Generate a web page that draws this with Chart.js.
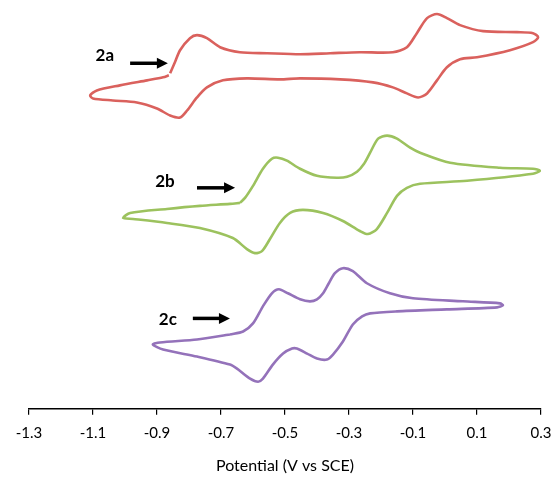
<!DOCTYPE html>
<html>
<head>
<meta charset="utf-8">
<script src="https://cdn.jsdelivr.net/npm/chart.js@4"></script>
<style>
  html, body { margin: 0; padding: 0; background: #fff; }
  #wrap { width: 556px; height: 477px; }
</style>
</head>
<body>
<div id="wrap"><canvas id="cvChart"></canvas></div>
<script>
// Cyclic voltammograms of 2a, 2b, 2c (currents offset, arbitrary units)

var xTicks = [-1.3, -1.1, -0.9, -0.7, -0.5, -0.3, -0.1, 0.1, 0.3];

// 2a: scan starts at -0.86 V going positive
var v2a = [-0.859, -0.844, -0.828, -0.797, -0.775, -0.744, -0.703, -0.641, -0.556, -0.453, -0.359, -0.266, -0.163, -0.119, -0.088, -0.056, -0.025, 0.006, 0.047, 0.119, 0.225, 0.275, 0.291,
           0.275, 0.203, 0.100, 0.047, 0.006, -0.025, -0.056, -0.084, -0.119, -0.163, -0.225, -0.328, -0.453, -0.516, -0.619, -0.694, -0.744, -0.775, -0.806, -0.828, -0.859, -0.900, -0.963, -1.038, -1.100, -1.109,
           -1.088, -1.016, -0.931, -0.881, -0.863];
var i2a = [33.4, 34.5, 35.7, 36.9, 37.2, 36.9, 36.0, 35.5, 35.4, 35.3, 35.4, 35.5, 35.5, 36.0, 37.4, 38.9, 39.3, 38.9, 38.2, 37.6, 37.5, 37.4, 37.0,
           36.5, 35.7, 35.0, 34.8, 34.0, 32.7, 31.4, 31.0, 31.4, 32.0, 32.5, 32.8, 32.9, 32.8, 32.9, 32.7, 32.0, 31.0, 29.7, 29.0, 29.2, 29.9, 30.5, 30.7, 30.9, 31.2,
           31.7, 32.2, 32.7, 33.0, 33.2];

// 2b
var v2b = [-0.641, -0.625, -0.600, -0.569, -0.541, -0.522, -0.494, -0.453, -0.400, -0.338, -0.306, -0.275, -0.253, -0.234, -0.209, -0.181, -0.150, -0.109, -0.078, 0.016, 0.172, 0.275, 0.297,
           0.275, 0.069, -0.078, -0.119, -0.150, -0.181, -0.213, -0.241, -0.266, -0.319, -0.381, -0.444, -0.484, -0.516, -0.547, -0.572, -0.594, -0.619, -0.663, -0.766, -0.869, -0.975, -1.006,
           -0.984, -0.869, -0.766, -0.672, -0.641];
var i2b = [20.5, 21.0, 22.2, 23.9, 24.9, 25.0, 24.7, 23.9, 23.2, 23.0, 23.1, 23.6, 24.4, 25.5, 26.9, 27.2, 26.9, 26.0, 25.5, 24.5, 24.0, 23.9, 23.7,
           23.4, 22.7, 22.4, 22.0, 21.2, 19.5, 17.9, 17.4, 17.7, 18.7, 19.5, 19.8, 19.5, 18.5, 16.9, 15.7, 15.5, 15.9, 17.0, 18.0, 18.5, 18.9, 19.0,
           19.5, 19.9, 20.2, 20.4, 20.5];

// 2c
var v2c = [-0.672, -0.631, -0.600, -0.569, -0.541, -0.519, -0.491, -0.453, -0.422, -0.400, -0.381, -0.363, -0.344, -0.319, -0.288, -0.244, -0.172, -0.100, 0.056, 0.172, 0.181,
           0.163, 0.006, -0.150, -0.234, -0.259, -0.288, -0.319, -0.350, -0.369, -0.400, -0.431, -0.463, -0.478, -0.506, -0.538, -0.569, -0.584, -0.609, -0.650, -0.672, -0.775, -0.881, -0.913,
           -0.891, -0.775, -0.672];
var i2c = [7.4, 7.7, 8.5, 10.2, 11.5, 11.9, 11.5, 10.9, 10.7, 10.9, 11.5, 12.5, 13.5, 14.0, 13.7, 12.5, 11.5, 11.0, 10.7, 10.5, 10.3,
           10.1, 9.9, 9.7, 9.5, 9.2, 8.4, 6.7, 5.4, 4.9, 5.0, 5.5, 6.0, 6.0, 5.5, 4.4, 3.0, 2.7, 3.0, 4.0, 4.4, 5.2, 5.9, 6.4,
           6.6, 6.9, 7.4];

// labels and arrows (in data units)
var tagNames = ['2a', '2b', '2c'];
var tagV = [-1.063, -0.875, -0.866];
var tagI = [35.2, 22.6, 8.9];
var arrowFrom = [-0.984, -0.775, -0.788];
var arrowTo = [-0.866, -0.656, -0.672];
var arrowI = [34.4, 22.0, 9.0];

function pts(v, i) {
    return v.map(function (x, k) { return { x: x, y: i[k] }; });
}

var tagPlugin = {
    id: 'tags',
    afterDatasetsDraw: function (chart) {
        var c = chart.ctx, xs = chart.scales.x, ys = chart.scales.y;
        c.save();
        c.fillStyle = '#000';
        c.strokeStyle = '#000';
        c.font = 'bold 17px Lato, "Open Sans", sans-serif';
        c.textAlign = 'center';
        c.textBaseline = 'middle';
        for (var k = 0; k < tagNames.length; k++) {
            c.fillText(tagNames[k], xs.getPixelForValue(tagV[k]), ys.getPixelForValue(tagI[k]));
            var x0 = xs.getPixelForValue(arrowFrom[k]);
            var x1 = xs.getPixelForValue(arrowTo[k]);
            var y = ys.getPixelForValue(arrowI[k]);
            c.lineWidth = 3.5;
            c.beginPath();
            c.moveTo(x0, y);
            c.lineTo(x1 - 9, y);
            c.stroke();
            c.beginPath();
            c.moveTo(x1, y);
            c.lineTo(x1 - 11, y - 5.5);
            c.lineTo(x1 - 11, y + 5.5);
            c.closePath();
            c.fill();
        }
        c.restore();
    }
};

var ctx = document.getElementById('cvChart').getContext('2d');
var cvChart = new Chart(ctx, {
    type: 'scatter',
    data: {
        datasets: [{
            label: '2a',
            data: pts(v2a, i2a),
            borderColor: '#DA615D'
        }, {
            label: '2b',
            data: pts(v2b, i2b),
            borderColor: '#9CC25E'
        }, {
            label: '2c',
            data: pts(v2c, i2c),
            borderColor: '#9472BA'
        }]
    },
    options: {
        responsive: true,
        maintainAspectRatio: false,
        animation: false,
        layout: { padding: { left: 29, right: 15, top: 0, bottom: 0 } },
        elements: {
            line: { borderWidth: 2.6, tension: 0.27, fill: false },
            point: { radius: 0, hoverRadius: 0 }
        },
        datasets: { scatter: { showLine: true } },
        plugins: {
            legend: { display: false },
            tooltip: { enabled: false }
        },
        scales: {
            x: {
                type: 'linear',
                min: -1.3,
                max: 0.3,
                afterBuildTicks: function (axis) {
                    axis.ticks = xTicks.map(function (v) { return { value: v }; });
                },
                // let the layout padding decide the side margins
                afterFit: function (axis) {
                    axis.paddingLeft = 0;
                    axis.paddingRight = 0;
                },
                ticks: {
                    color: '#000',
                    padding: 9,
                    font: { family: 'Lato, "Open Sans", sans-serif', size: 15 },
                    callback: function (v) { return (Math.round(v * 10) / 10).toFixed(1); }
                },
                grid: {
                    display: true,
                    drawOnChartArea: false,
                    drawTicks: true,
                    tickLength: 6,
                    color: '#000',
                    lineWidth: 1.2
                },
                border: { display: true, color: '#000', width: 1.5 },
                title: {
                    display: true,
                    text: 'Potential (V vs SCE)',
                    color: '#000',
                    font: { family: 'Lato, "Open Sans", sans-serif', size: 16 },
                    padding: { top: 5, bottom: 2 }
                }
            },
            y: {
                display: false,
                min: 0,
                max: 40.7
            }
        }
    },
    plugins: [tagPlugin]
});
</script>
</body>
</html>
